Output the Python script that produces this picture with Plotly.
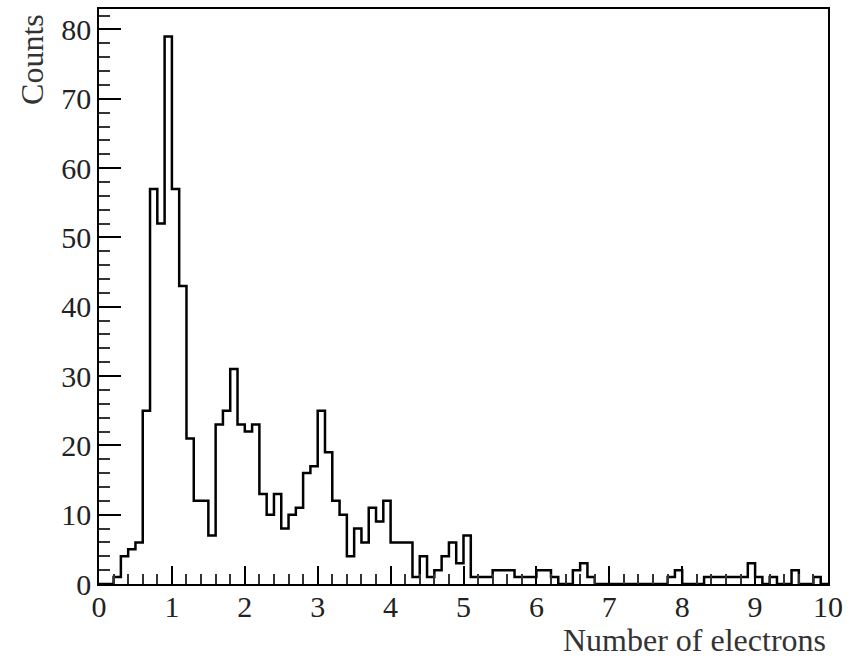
import plotly.graph_objects as go

# Histogram data: 100 bins of width 0.1 from 0 to 10
bin_low = 0.0
bin_width = 0.1
counts = [
    0, 0, 1, 4, 5, 6, 25, 57, 52, 79,      # 0.0 - 1.0
    57, 43, 21, 12, 12, 7, 23, 25, 31, 23,  # 1.0 - 2.0
    22, 23, 13, 10, 13, 8, 10, 11, 16, 17,  # 2.0 - 3.0
    25, 19, 12, 10, 4, 8, 6, 11, 9, 12,     # 3.0 - 4.0
    6, 6, 6, 1, 4, 1, 2, 4, 6, 3,           # 4.0 - 5.0
    7, 1, 1, 1, 2, 2, 2, 1, 1, 1,           # 5.0 - 6.0
    2, 2, 1, 0, 0, 2, 3, 1, 0, 0,           # 6.0 - 7.0
    0, 0, 0, 0, 0, 0, 0, 0, 1, 2,           # 7.0 - 8.0
    0, 0, 0, 1, 1, 1, 1, 1, 1, 3,           # 8.0 - 9.0
    1, 0, 1, 0, 0, 2, 0, 0, 1, 0,           # 9.0 - 10.0
]
x_tick_vals = [0, 1, 2, 3, 4, 5, 6, 7, 8, 9, 10]
y_tick_vals = [0, 10, 20, 30, 40, 50, 60, 70, 80]
x_title = "Number of electrons"
y_title = "Counts"

edges = [bin_low + i * bin_width for i in range(len(counts) + 1)]
ys = counts + [counts[-1]]
ymax = 1.05 * max(counts)

FONT = "Liberation Serif"

fig = go.Figure()
fig.add_trace(go.Scatter(
    x=edges, y=ys, mode="lines", line_shape="hv",
    line=dict(color="black", width=2.5), cliponaxis=False,
    showlegend=False, hoverinfo="skip",
))

W, H = 854, 659
L, R, T, B = 99, 26, 7, 75

fig.update_layout(
    width=W, height=H,
    margin=dict(l=L, r=R, t=T, b=B),
    paper_bgcolor="white", plot_bgcolor="white",
    font=dict(family=FONT, color="black", size=30),
    xaxis=dict(
        range=[0, 10], tickmode="array", tickvals=x_tick_vals,
        ticktext=[str(v) for v in x_tick_vals],
        ticks="inside", ticklen=18, tickwidth=1.5, tickcolor="black",
        minor=dict(dtick=0.2, ticks="inside", ticklen=10, tickwidth=1.5, tickcolor="#333"),
        showline=True, linecolor="black", linewidth=1.5, mirror=True,
        showgrid=False, zeroline=False, ticklabelstandoff=-5,
        tickfont=dict(family=FONT, size=30, color="#222"),
    ),
    yaxis=dict(
        range=[0, ymax], tickmode="array", tickvals=y_tick_vals,
        ticktext=[str(v) for v in y_tick_vals],
        ticks="inside", ticklen=22, tickwidth=1.5, tickcolor="black",
        minor=dict(dtick=2, ticks="inside", ticklen=11, tickwidth=1.5, tickcolor="#333"),
        showline=True, linecolor="black", linewidth=1.5, mirror=True,
        showgrid=False, zeroline=False,
        tickfont=dict(family=FONT, size=30, color="#222"),
    ),
)

plot_w = W - L - R
plot_h = H - T - B
fig.add_annotation(
    text=x_title, xref="paper", yref="paper",
    x=1.0, y=(583.6 - 640) / plot_h, xanchor="right", yanchor="middle",
    showarrow=False, font=dict(family=FONT, size=32, color="#333"),
)
fig.add_annotation(
    text=y_title, xref="paper", yref="paper", textangle=-90,
    x=(32 - L) / plot_w, y=(583.6 - 10) / plot_h, xanchor="center", yanchor="top",
    showarrow=False, font=dict(family=FONT, size=32, color="#333"),
)

fig.write_html("out.html")
